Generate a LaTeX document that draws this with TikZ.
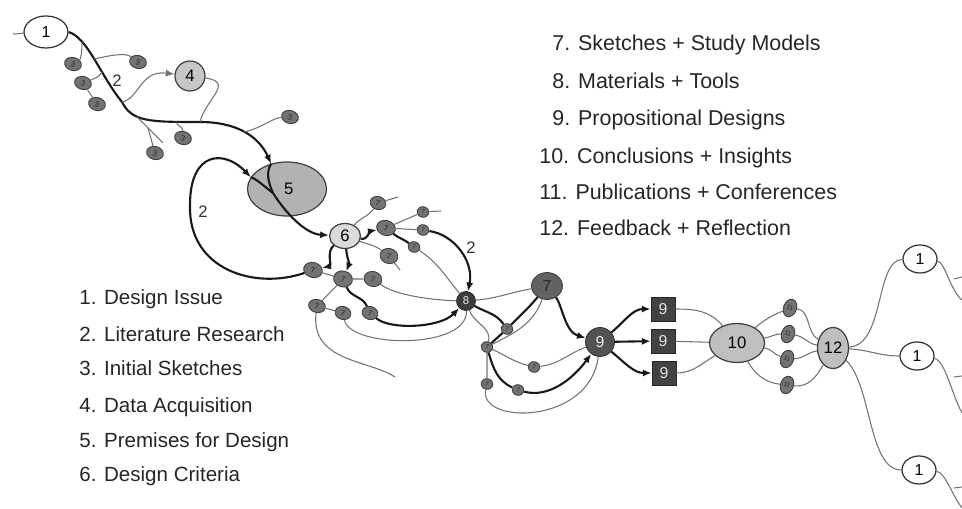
\documentclass[tikz,border=0pt]{standalone}
\usepackage{fontspec}
\setmainfont{Liberation Sans}
\usetikzlibrary{shapes.geometric,arrows.meta}

\tikzset{
	issue/.style={ellipse,draw=black!80,fill=white,line width=0.7pt,minimum width=0.88cm,minimum height=0.64cm,inner sep=0pt,font=\fontsize{9}{9}\selectfont},
	sketch/.style={ellipse,draw=black!75,fill=black!55,line width=0.5pt,minimum width=0.34cm,minimum height=0.26cm,inner sep=0pt,text=black!85,font=\fontsize{4.5}{4.5}\selectfont,rotate=-15},
	small sketch/.style={sketch,minimum width=0.24cm,minimum height=0.21cm,font=\fontsize{3.5}{3.5}\selectfont},
	pale/.style={ellipse,draw=black!75,fill=black!22,line width=0.7pt,inner sep=0pt,font=\fontsize{9.5}{9.5}\selectfont},
	hub/.style={circle,draw=black!85,fill=black!68,text=black!8,inner sep=0pt,font=\fontsize{8}{8}\selectfont},
	design/.style={rectangle,draw=black!85,fill=black!74,text=black!12,minimum size=0.48cm,inner sep=0pt,font=\fontsize{9}{9}\selectfont},
	twig/.style={draw=black!55,line width=0.6pt},
	route/.style={draw=black!90,line width=1.2pt},
	legend/.style={anchor=base west,inner sep=0pt,font=\fontsize{11.7}{14}\selectfont,text=black!85},
	legend right/.style={legend,font=\fontsize{12.2}{14}\selectfont},
	pathlabel/.style={font=\fontsize{9.5}{9.5}\selectfont,text=black!80},
}

\begin{document}
\begin{tikzpicture}[x=0.02cm,y=-0.02cm,>={Latex[length=5pt,width=4pt]}]
	\fill[white] (0,0) rectangle (962,509);
	\useasboundingbox (0,0) rectangle (962,509);

	% legends
	\node[legend] (t1) at (79,305) {1. Design Issue};
	\node[legend] (t2) at (79,341) {2. Literature Research};
	\node[legend] (t3) at (79,376) {3. Initial Sketches};
	\node[legend] (t4) at (79,412) {4. Data Acquisition};
	\node[legend] (t5) at (79,447) {5. Premises for Design};
	\node[legend] (t6) at (79,481) {6. Design Criteria};
	\node[legend right] (t7) at (552,51) {7. Sketches + Study Models};
	\node[legend right] (t8) at (552,89) {8. Materials + Tools};
	\node[legend right] (t9) at (552,126) {9. Propositional Designs};
	\node[legend right] (t10) at (539,164) {10. Conclusions + Insights};
	\node[legend right] (t11) at (539,200) {11. Publications + Conferences};
	\node[legend right] (t12) at (539,236) {12. Feedback + Reflection};

	% issue, research, data
	\node[issue] (n1) at (46,32) {1};
	\coordinate (c0) at (13,34);
	\node[sketch] (n3a) at (73,64) {3};
	\node[sketch] (n3b) at (83,83) {3};
	\node[sketch] (n3c) at (97,104) {3};
	\node[sketch] (n3d) at (138,62) {3};
	\node[sketch] (n3e) at (155,153) {3};
	\node[sketch] (n3f) at (183,138) {3};
	\node[sketch] (n3g) at (290,117) {3};
	\node[pale,circle,fill=black!22,minimum size=0.6cm] (n4) at (190,76) {4};
	\node[pale,fill=black!30,minimum width=1.58cm,minimum height=1.08cm] (n5) at (287,189) {\hspace{2pt}5};
	\node[pale,fill=black!14,minimum width=0.62cm,minimum height=0.5cm] (n6) at (345,236) {6};

	% sketches + study models
	\node[sketch,minimum width=0.32cm] (s7a) at (378,203) {7};
	\node[sketch,minimum width=0.38cm,minimum height=0.3cm] (s7b) at (386,228) {7};
	\node[small sketch] (s7c) at (423,212) {7};
	\node[small sketch] (s7d) at (423,230) {7};
	\node[small sketch] (s7e) at (414,247) {7};
	\node[sketch,minimum width=0.36cm,minimum height=0.3cm] (s7f) at (389,256) {7};
	\node[sketch,minimum width=0.38cm,minimum height=0.3cm] (s7g) at (313,270) {7};
	\node[sketch,minimum width=0.38cm,minimum height=0.32cm] (s7h) at (343,279) {7};
	\node[sketch,minimum width=0.36cm,minimum height=0.3cm] (s7i) at (373,279) {7};
	\node[sketch] (s7j) at (317,306) {7};
	\node[sketch,minimum width=0.32cm] (s7k) at (343,313) {7};
	\node[sketch,minimum width=0.32cm] (s7l) at (370,313) {7};

	% materials and tools
	\node[hub,fill=black!76,minimum size=0.38cm,font=\fontsize{6.5}{6.5}\selectfont] (n8) at (466,301) {8};
	\node[ellipse,draw=black!80,fill=black!62,minimum width=0.62cm,minimum height=0.54cm,inner sep=0pt,text=black!85,font=\fontsize{9}{9}\selectfont] (s7m) at (547,286) {7};
	\node[small sketch] (m1) at (507,329) {7};
	\node[small sketch] (m2) at (487,347) {7};
	\node[small sketch] (m3) at (534,367) {7};
	\node[small sketch] (m4) at (518,390) {7};
	\node[small sketch] (m5) at (487,384) {7};

	% designs
	\node[hub,minimum size=0.58cm,font=\fontsize{9}{9}\selectfont] (n9) at (600,342) {9};
	\node[design] (d1) at (663,309) {9};
	\node[design] (d2) at (663,341) {9};
	\node[design] (d3) at (664,373) {9};
	\node[pale,fill=black!25,minimum width=1.1cm,minimum height=0.78cm] (n10) at (737,343) {10};
	\node[sketch,minimum width=0.26cm,minimum height=0.36cm,rotate=-5,font=\fontsize{3.5}{3.5}\selectfont] (e1) at (790,308) {11};
	\node[sketch,minimum width=0.26cm,minimum height=0.36cm,rotate=-5,font=\fontsize{3.5}{3.5}\selectfont] (e2) at (788,334) {11};
	\node[sketch,minimum width=0.26cm,minimum height=0.36cm,rotate=-5,font=\fontsize{3.5}{3.5}\selectfont] (e3) at (787,359) {11};
	\node[sketch,minimum width=0.26cm,minimum height=0.36cm,rotate=-5,font=\fontsize{3.5}{3.5}\selectfont] (e4) at (787,385) {11};
	\node[pale,fill=black!25,minimum width=0.62cm,minimum height=0.82cm] (n12) at (833,348) {12};
	\node[issue,minimum width=0.68cm,minimum height=0.56cm] (r1) at (920,259) {1};
	\node[issue,minimum width=0.68cm,minimum height=0.56cm] (r2) at (917,356) {1};
	\node[issue,minimum width=0.68cm,minimum height=0.56cm] (r3) at (919,470) {1};

	% main line 1 -> 5 -> 6
	\coordinate (k1) at (122,102);
	\coordinate (k2) at (200,122);
	\coordinate (k3) at (273,193);
	\coordinate (k4) at (190,205);
	\draw[twig] (c0) -- (n1);
	\draw[route,->] (n1.east) .. controls (88,38) and (100,75) .. (k1)
		.. controls (132,122) and (150,122) .. (k2)
		.. controls (235,122) and (258,135) .. (n5.122);
	\draw[route,->] (n5.122) .. controls (266,172) and (268,182) .. (k3)
		.. controls (285,212) and (305,234) .. (n6);
	\draw[route,->] (s7g) .. controls (255,290) and (188,270) .. (k4)
		.. controls (190,150) and (225,150) .. (n5.162);
	\draw[route] (n5.162) .. controls (255,178) and (264,186) .. (k3);
	\node[pathlabel] (l2a) at (117,81) {2};
	\node[pathlabel] (l2b) at (203,212) {2};

	% branches of the research line
	\coordinate (b1) at (82,42);
	\coordinate (b2) at (94,59);
	\coordinate (b3) at (102,72);
	\coordinate (b4) at (137,117);
	\coordinate (b5) at (148,128);
	\coordinate (b6) at (176,122);
	\coordinate (b7) at (244,132);
	\coordinate (c1) at (163,143);
	\draw[twig] (b1) .. controls (82,55) and (80,60) .. (n3a);
	\draw[twig] (b2) .. controls (108,56) and (125,52) .. (n3d);
	\draw[twig] (b3) to[out=-120,in=30] (n3b);
	\draw[twig] (n3b) -- (n3c);
	\draw[twig] (b4) -- (c1);
	\draw[twig] (b5) -- (n3e);
	\draw[twig] (b6) to[out=-70,in=100] (n3f);
	\draw[twig] (b7) .. controls (262,128) and (272,118) .. (n3g);
	\draw[twig,->] (k1) .. controls (140,98) and (140,70) .. (n4);
	\draw[twig] (n4) .. controls (235,82) and (205,100) .. (k2);

	% around 6
	\coordinate (c2) at (398,197);
	\coordinate (c3) at (400,270);
	\coordinate (c4) at (441,211);
	\coordinate (c5) at (395,377);
	\draw[route,->] (n6) to[out=-140,in=20] (s7g);
	\draw[route,->] (n6) to[out=-85,in=75] (s7h);
	\draw[route,->] (n6) to[out=-10,in=200] (s7b);
	\draw[twig] (n6) to[out=50,in=-120] (s7a);
	\draw[twig] (s7a) -- (c2);
	\draw[twig] (n6) to[out=-20,in=150] (s7f);
	\draw[twig] (s7f) -- (c3);
	\draw[twig] (s7b) -- (s7c);
	\draw[twig] (s7c) -- (c4);
	\draw[twig] (s7b) -- (s7d);
	\draw[route] (s7b) to[out=-30,in=150] (s7e);
	\draw[twig] (s7e) to[out=-30,in=130] (n8);
	\draw[route,->] (s7d) .. controls (455,235) and (474,262) .. (n8);
	\node[pathlabel] (l2c) at (471,248) {2};
	\draw[twig] (s7g) -- (s7h);
	\draw[twig] (s7h) -- (s7i);
	\draw[twig] (s7i) .. controls (395,295) and (430,300) .. (n8);
	\draw[twig] (s7h) -- (s7j);
	\draw[twig] (s7j) -- (s7k);
	\draw[route] (s7h) to[out=-60,in=120] (s7l);
	\draw[route,->] (s7l) .. controls (390,330) and (440,328) .. (n8);
	\draw[twig] (s7k) .. controls (350,348) and (468,350) .. (n8);
	\draw[twig] (s7j) .. controls (310,362) and (370,360) .. (c5);

	% around 8
	\draw[twig] (n8) to[out=5,in=190] (s7m);
	\draw[route] (n8) to[out=-30,in=130] (m1);
	\draw[route] (m1) to[out=50,in=-130] (s7m);
	\draw[route] (m2) -- (m1);
	\draw[twig] (m2) to[out=30,in=-110] (s7m);
	\draw[twig] (n8) to[out=-70,in=80] (m2);
	\draw[twig] (m2) -- (m5);
	\draw[twig] (m2) to[out=-20,in=170] (m3);
	\draw[twig] (m3) to[out=10,in=200] (n9);
	\draw[route] (m2) to[out=-70,in=160] (m4);
	\draw[route,->] (m4) .. controls (548,398) and (572,380) .. (n9);
	\draw[twig] (m5) .. controls (478,425) and (590,425) .. (n9);
	\draw[route,->] (s7m) .. controls (562,305) and (565,332) .. (n9);

	% designs to feedback
	\draw[route,->] (n9) to[out=40,in=180] (d1);
	\draw[route,->] (n9) -- (d2);
	\draw[route,->] (n9) to[out=-40,in=180] (d3);
	\draw[twig] (d1) to[out=0,in=130] (n10);
	\draw[twig] (d2) -- (n10);
	\draw[twig] (d3) to[out=0,in=-150] (n10);
	\draw[twig] (n10) to[out=40,in=-150] (e1);
	\draw[twig] (n10) to[out=10,in=190] (e2);
	\draw[twig] (n10) to[out=-10,in=170] (e3);
	\draw[twig] (n10) to[out=-60,in=180] (e4);
	\draw[twig] (e1) to[out=0,in=150] (n12);
	\draw[twig] (e2) to[out=0,in=170] (n12);
	\draw[twig] (e3) to[out=10,in=-170] (n12);
	\draw[twig] (e4) to[out=0,in=-120] (n12);
	\draw[twig] (n12) .. controls (885,345) and (875,260) .. (r1);
	\draw[twig] (n12) to[out=-3,in=180] (r2);
	\draw[twig] (n12) .. controls (872,385) and (868,470) .. (r3);

	% next cycles
	\coordinate (o1) at (962,300);
	\coordinate (o2) at (962,413);
	\coordinate (o3) at (962,508);
	\draw[twig] (r1) .. controls (945,262) and (950,290) .. (o1);
	\draw[twig] (r2) .. controls (945,360) and (952,395) .. (o2);
	\draw[twig] (r3) .. controls (945,472) and (952,495) .. (o3);
	\draw[twig] (954,279) -- (962,277);
	\draw[twig] (954,377) -- (962,376);
	\draw[twig] (954,488) -- (962,487);
\end{tikzpicture}
\end{document}
